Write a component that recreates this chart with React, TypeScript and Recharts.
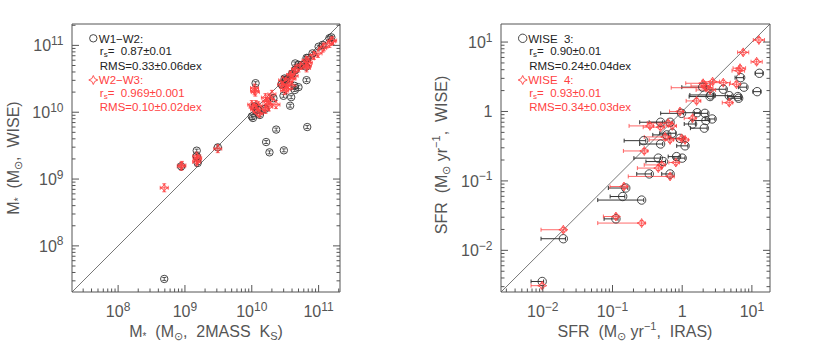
import React from "react";
import { ScatterChart, Scatter, XAxis, YAxis, ErrorBar, ReferenceLine } from "recharts";

// left panel: stellar mass from 2MASS Ks (x) vs WISE (y), in Msun
const w12Ks = [4.9e8, 8.8e8, 1.5e9, 1.5e9, 1.55e9, 3.1e9, 1.14e10, 1.0e10, 1.04e10, 1.1e10, 1.22e10, 1.32e10, 1.58e10, 1.64e10, 1.84e10, 2.32e10, 3.02e10, 6.76e10, 3.75e10, 2.98e10, 3.89e10, 2.11e10, 6.6e10, 5.0e10, 4.37e10, 4.4e10, 3.1e10, 3.3e10, 3.24e10, 4.0e10, 4.5e10, 5.0e10, 5.5e10, 4.47e10, 6.6e10, 6.87e10, 8.1e10, 1.0e11, 1.15e11, 1.45e11, 1.55e11, 2.8e10, 6.5e10];
const w12Wise = [3.2e7, 1.55e9, 2.66e9, 2.2e9, 1.74e9, 2.98e9, 2.72e10, 8.65e9, 8.2e9, 1.22e10, 1.09e10, 9.1e9, 1.12e10, 3.58e9, 2.51e9, 5.5e9, 2.69e9, 6.0e9, 1.25e10, 1.76e10, 1.68e10, 1.62e10, 3.02e10, 2.37e10, 2.48e10, 2.15e10, 3.2e10, 3.1e10, 3.02e10, 3.75e10, 4.3e10, 5.13e10, 5.1e10, 5.37e10, 6.5e10, 6.46e10, 7.6e10, 9.55e10, 1.02e11, 1.28e11, 1.32e11, 2.6e10, 4.8e10];
const w23Ks = [4.9e8, 8.8e8, 9.0e8, 1.5e9, 1.52e9, 1.5e9, 1.55e9, 3.1e9, 1.1e10, 1.1e10, 1.13e10, 1.0e10, 1.05e10, 1.1e10, 1.2e10, 1.3e10, 1.4e10, 1.25e10, 1.15e10, 1.6e10, 1.65e10, 1.75e10, 1.9e10, 2.0e10, 1.8e10, 2.3e10, 1.6e10, 2.8e10, 3.0e10, 3.2e10, 3.3e10, 3.5e10, 3.6e10, 3.8e10, 4.0e10, 4.2e10, 4.3e10, 4.5e10, 2.9e10, 3.1e10, 4.0e10, 5.0e10, 5.4e10, 6.2e10, 6.5e10, 6.8e10, 7.0e10, 6.6e10, 7.5e10, 8.5e10, 9.8e10, 1.15e11, 1.2e11, 1.45e11, 1.55e11, 1.62e11];
const w23Wise = [7.4e8, 1.55e9, 1.6e9, 2.2e9, 1.95e9, 1.8e9, 2.05e9, 2.85e9, 2.3e10, 2.1e10, 2.0e10, 1.3e10, 1.2e10, 1.1e10, 1.0e10, 9.5e9, 1.05e10, 1.25e10, 1.3e10, 1.65e10, 1.45e10, 1.3e10, 1.55e10, 1.85e10, 1.2e10, 1.3e10, 1.1e10, 2.6e10, 2.4e10, 2.8e10, 2.2e10, 2.6e10, 3.3e10, 3.6e10, 3.2e10, 4.0e10, 3.5e10, 4.4e10, 3.0e10, 2.1e10, 2.5e10, 4.6e10, 5.0e10, 5.3e10, 6.0e10, 5.0e10, 5.5e10, 4.6e10, 6.4e10, 7.1e10, 7.6e10, 9.1e10, 9.5e10, 1.07e11, 1.15e11, 1.18e11];

// right panel: SFR from IRAS (x) vs WISE (y), Msun/yr; x errors in dex
const w3Iras = [0.0098, 0.0197, 0.112, 0.14, 0.262, 0.155, 0.337, 0.67, 0.454, 0.537, 0.83, 1.0, 0.28, 0.49, 0.6, 0.72, 0.93, 1.1, 0.49, 0.67, 0.98, 1.41, 1.64, 2.12, 2.19, 2.08, 2.69, 2.51, 2.57, 3.89, 4.73, 6.3, 6.46, 6.9, 7.7, 11.9, 12.8, 1.97];
const w3Wise = [0.00356, 0.0147, 0.0284, 0.0596, 0.053, 0.079, 0.126, 0.126, 0.213, 0.19, 0.224, 0.213, 0.38, 0.34, 0.46, 0.486, 0.41, 0.32, 0.7, 0.7, 0.94, 0.66, 0.96, 0.94, 0.74, 0.575, 0.78, 1.64, 1.73, 2.09, 1.69, 1.64, 1.55, 3.07, 2.24, 1.93, 3.55, 2.24];
const w3ErrLo = [0.16, 0.32, 0.17, 0.18, 0.63, 0.25, 0.18, 0.12, 0.35, 0.25, 0.12, 0.12, 0.28, 0.3, 0.2, 0.18, 0.15, 0.12, 0.3, 0.3, 0.3, 0.12, 0.2, 0.15, 0.2, 0.2, 0.1, 0.3, 0.3, 0.25, 0.2, 0.15, 0.15, 0.08, 0.08, 0.06, 0.06, 0.3];
const w3ErrHi = [0.02, 0.03, 0.03, 0.03, 0.03, 0.03, 0.03, 0.03, 0.03, 0.03, 0.05, 0.04, 0.03, 0.03, 0.03, 0.05, 0.04, 0.04, 0.03, 0.03, 0.03, 0.04, 0.04, 0.04, 0.05, 0.04, 0.04, 0.04, 0.04, 0.04, 0.04, 0.04, 0.04, 0.04, 0.04, 0.05, 0.05, 0.04];
const w4Iras = [0.0098, 0.0197, 0.112, 0.262, 0.146, 0.286, 0.67, 0.454, 0.507, 0.81, 0.345, 0.49, 0.63, 0.72, 0.67, 0.57, 0.98, 1.1, 0.93, 1.41, 1.61, 2.0, 2.12, 2.51, 2.73, 3.89, 4.73, 6.0, 6.76, 6.53, 7.5, 11.7, 12.6, 2.2];
const w4Wise = [0.0031, 0.0198, 0.0307, 0.0247, 0.083, 0.27, 0.116, 0.153, 0.17, 0.184, 0.62, 0.594, 0.68, 0.62, 0.39, 0.43, 0.41, 0.39, 1.0, 0.8, 1.42, 2.55, 2.33, 2.04, 2.69, 2.6, 1.34, 2.47, 4.2, 3.87, 7.1, 5.2, 10.7, 2.2];
const w4ErrLo = [0.16, 0.32, 0.18, 0.63, 0.2, 0.3, 0.6, 0.3, 0.25, 0.1, 0.3, 0.25, 0.3, 0.2, 0.3, 0.3, 0.15, 0.12, 0.15, 0.12, 0.15, 0.25, 0.2, 0.2, 0.15, 0.15, 0.1, 0.1, 0.1, 0.1, 0.08, 0.08, 0.08, 0.5];
const w4ErrHi = [0.02, 0.04, 0.04, 0.05, 0.05, 0.05, 0.06, 0.05, 0.05, 0.05, 0.05, 0.05, 0.05, 0.06, 0.05, 0.05, 0.05, 0.05, 0.05, 0.05, 0.06, 0.1, 0.08, 0.08, 0.1, 0.1, 0.05, 0.06, 0.08, 0.08, 0.08, 0.08, 0.08, 0.1];

// axes (log10 units)
const massDomain = [7.31, 11.32];
const sfrDomain = [-2.6, 1.26];
const massDecades = [7, 8, 9, 10, 11];
const sfrDecades = [-3, -2, -1, 0, 1];
const minorSteps = [1, 2, 3, 4, 5, 6, 7, 8, 9];
const massLabels: Record<number, [string, string]> = { 8: ["10", "8"], 9: ["10", "9"], 10: ["10", "10"], 11: ["10", "11"] };
const sfrLabels: Record<number, [string, string]> = { [-2]: ["10", "\u22122"], [-1]: ["10", "\u22121"], 0: ["1", ""], 1: ["10", "1"] };

const FONT = "'Liberation Sans', Arial, sans-serif";
const AXIS = "#555";
const BLACK = "#333";
const RED = "#ff4242";

const lg = Math.log10;

function logTicks(decades: number[], dom: number[]) {
  const out: number[] = [];
  decades.forEach((d) => minorSteps.forEach((k) => {
    const v = k === 1 ? d : d + lg(k);
    if (v >= dom[0] && v <= dom[1]) out.push(v);
  }));
  return out;
}

function makeTick(side: string, labels: Record<number, [string, string]>) {
  return (props: any) => {
    const { x, y, payload } = props;
    const v = payload.value;
    const major = Math.abs(v - Math.round(v)) < 1e-9;
    const len = major ? 7 : 3.5;
    const lab = major ? labels[Math.round(v)] : undefined;
    if (side === "bottom")
      return (
        <g>
          <line x1={x} x2={x} y1={y} y2={y - len} stroke={AXIS} />
          {lab && (
            <text x={x} y={y + 25} textAnchor="middle" fontSize={16} fill={AXIS} fontFamily={FONT}>
              {lab[0]}
              {lab[1] && <tspan dy={-6.5} fontSize={12}>{lab[1]}</tspan>}
            </text>
          )}
        </g>
      );
    if (side === "top") return <line x1={x} x2={x} y1={y} y2={y + len} stroke={AXIS} />;
    if (side === "left")
      return (
        <g>
          <line x1={x} x2={x + len} y1={y} y2={y} stroke={AXIS} />
          {lab && (
            <text x={x - 8.5} y={y + 6} textAnchor="end" fontSize={16} fill={AXIS} fontFamily={FONT}>
              {lab[0]}
              {lab[1] && <tspan dy={-6.5} fontSize={12}>{lab[1]}</tspan>}
            </text>
          )}
        </g>
      );
    return <line x1={x} x2={x - len} y1={y} y2={y} stroke={AXIS} />;
  };
}

const circleShape = (r: number) => (p: any) => (
  <circle cx={p.cx} cy={p.cy} r={r} fill="none" stroke={BLACK} strokeWidth={0.9} />
);
const starShape = (s: number) => (p: any) => {
  const { cx, cy } = p;
  const t = s * 0.32;
  const d = `M${cx},${cy - s}L${cx + t},${cy - t}L${cx + s},${cy}L${cx + t},${cy + t}L${cx},${cy + s}L${cx - t},${cy + t}L${cx - s},${cy}L${cx - t},${cy - t}Z`;
  return <path d={d} fill="none" stroke={RED} strokeWidth={0.9} />;
};

const massBlack = w12Ks.map((v, i) => ({ x: lg(v), y: lg(w12Wise[i]), ey: 0.022 }));
const massRed = w23Ks.map((v, i) => ({ x: lg(v), y: lg(w23Wise[i]), ex: 0.06, ey: 0.06 }));
const sfrBlack = w3Iras.map((v, i) => ({ x: lg(v), y: lg(w3Wise[i]), ex: [w3ErrLo[i], w3ErrHi[i]] }));
const sfrRed = w4Iras.map((v, i) => ({ x: lg(v), y: lg(w4Wise[i]), ex: [w4ErrLo[i], w4ErrHi[i]], ey: 0.035 }));

function Panel(props: {
  dom: number[]; decades: number[]; labels: Record<number, [string, string]>;
  left: number; right: number; black: any[]; red: any[]; r: number; sfr: boolean;
}) {
  const { dom, decades, labels, left, right, black, red, r, sfr } = props;
  const ticks = logTicks(decades, dom);
  const common = { type: "number" as const, domain: dom, allowDataOverflow: true, ticks, interval: 0 as const, tickLine: false, tickSize: 0, tickMargin: 0, axisLine: { stroke: AXIS } };
  return (
    <ScatterChart width={left + 268 + right + (sfr ? 1 : 0)} height={344} margin={{ top: 0, right: 0, bottom: 0, left: 0 }}>
      <XAxis {...common} dataKey="x" height={52} tick={makeTick("bottom", labels)} />
      <XAxis {...common} xAxisId="top" orientation="top" height={24} tick={makeTick("top", labels)} />
      <YAxis {...common} dataKey="y" width={left} tick={makeTick("left", labels)} />
      <YAxis {...common} yAxisId="right" orientation="right" width={right} tick={makeTick("right", labels)} />
      <ReferenceLine segment={[{ x: dom[0], y: dom[0] }, { x: dom[1], y: dom[1] }]} stroke="#777" strokeWidth={1} />
      <Scatter data={black} shape={circleShape(r)} isAnimationActive={false}>
        {sfr ? (
          <ErrorBar dataKey="ex" direction="x" width={2} stroke={BLACK} strokeWidth={1} />
        ) : (
          <ErrorBar dataKey="ey" direction="y" width={2} stroke={BLACK} strokeWidth={0.8} />
        )}
      </Scatter>
      <Scatter data={red} shape={starShape(sfr ? 4.5 : 4)} isAnimationActive={false}>
        <ErrorBar dataKey="ex" direction="x" width={2} stroke={RED} strokeWidth={0.8} />
        <ErrorBar dataKey="ey" direction="y" width={2} stroke={RED} strokeWidth={0.8} />
      </Scatter>
    </ScatterChart>
  );
}

function Legend(props: { x: number; r: number; lines: string[][] }) {
  const { x, r, lines } = props;
  const ys = [38.3, 51.7, 65.7, 80, 93.3, 107];
  const star = (cx: number, cy: number, s: number) => {
    const t = s * 0.32;
    return `M${cx},${cy - s}L${cx + t},${cy - t}L${cx + s},${cy}L${cx + t},${cy + t}L${cx},${cy + s}L${cx - t},${cy + t}L${cx - s},${cy}L${cx - t},${cy - t}Z`;
  };
  return (
    <g fontFamily={FONT} fontSize={11.5}>
      <circle cx={x} cy={ys[0]} r={r} fill="none" stroke={BLACK} strokeWidth={0.9} />
      <path d={star(x, ys[3], 4.5)} fill="none" stroke={RED} strokeWidth={0.9} />
      {lines.map((ln, i) => {
        const col = i < 3 ? "#222" : RED;
        const tx = i % 3 === 0 ? x + 5.5 : x + 6.5;
        if (ln.length === 2)
          return (
            <text key={i} x={tx} y={ys[i] + 3.5} fill={col} xmlSpace="preserve">
              r<tspan fontSize={8} dy={2}>s</tspan>
              <tspan dy={-2}>{ln[1]}</tspan>
            </text>
          );
        return (
          <text key={i} x={tx} y={ys[i] + 4.3} fill={col} xmlSpace="preserve">
            {ln[0]}
          </text>
        );
      })}
    </g>
  );
}

export default function App() {
  return (
    <div style={{ position: "absolute", left: 0, top: 0, width: 830, height: 344, background: "#fff" }}>
      <div style={{ position: "absolute", left: 0, top: 0 }}>
        <Panel dom={massDomain} decades={massDecades} labels={massLabels} left={72} right={75} black={massBlack} red={massRed} r={3.7} sfr={false} />
      </div>
      <div style={{ position: "absolute", left: 415, top: 0 }}>
        <Panel dom={sfrDomain} decades={sfrDecades} labels={sfrLabels} left={86} right={60} black={sfrBlack} red={sfrRed} r={4.2} sfr={true} />
      </div>
      <svg width={830} height={344} style={{ position: "absolute", left: 0, top: 0, pointerEvents: "none" }}>
        <Legend x={93.3} r={3.7} lines={[["W1\u2212W2:"], ["r", "=  0.87\u00b10.01"], ["RMS=0.33\u00b10.06dex"], ["W2\u2212W3:"], ["r", "=  0.969\u00b10.001"], ["RMS=0.10\u00b10.02dex"]]} />
        <Legend x={522.7} r={4.2} lines={[["WISE  3:"], ["r", "=  0.90\u00b10.01"], ["RMS=0.24\u00b10.04dex"], ["WISE  4:"], ["r", "=  0.93\u00b10.01"], ["RMS=0.34\u00b10.03dex"]]} />
        <g fontFamily={FONT} fontSize={16} fill={AXIS}>
          <text x={206} y={337} textAnchor="middle" xmlSpace="preserve">
            M<tspan fontSize={10} dy={3}>*</tspan><tspan dy={-3}>  (M</tspan><tspan fontSize={11} dy={3}>⊙</tspan><tspan dy={-3}>,  2MASS  K</tspan><tspan fontSize={11} dy={3}>S</tspan><tspan dy={-3}>)</tspan>
          </text>
          <text x={19} y={158} textAnchor="middle" transform="rotate(-90 19 158)" xmlSpace="preserve">
            M<tspan fontSize={10} dy={3}>*</tspan><tspan dy={-3}>  (M</tspan><tspan fontSize={11} dy={3}>⊙</tspan><tspan dy={-3}>,  WISE)</tspan>
          </text>
          <text x={635} y={337} textAnchor="middle" xmlSpace="preserve">
            SFR  (M<tspan fontSize={11} dy={3}>⊙</tspan><tspan dy={-3}> yr</tspan><tspan fontSize={11} dy={-7}>{"\u22121"}</tspan><tspan dy={7}>,  IRAS)</tspan>
          </text>
          <text x={447} y={155} textAnchor="middle" transform="rotate(-90 447 155)" xmlSpace="preserve">
            SFR  (M<tspan fontSize={11} dy={3}>⊙</tspan><tspan dy={-3}> yr</tspan><tspan fontSize={11} dy={-7}>{"\u22121"}</tspan><tspan dy={7}>,  WISE)</tspan>
          </text>
        </g>
      </svg>
    </div>
  );
}
